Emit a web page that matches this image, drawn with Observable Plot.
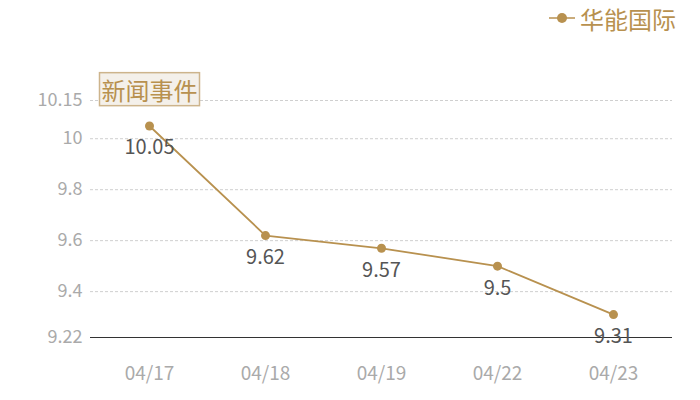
<!DOCTYPE html>
<html>
<head>
<meta charset="utf-8">
<script src="https://cdn.jsdelivr.net/npm/d3@7"></script>
<script src="https://cdn.jsdelivr.net/npm/@observablehq/plot@0.6"></script>
<style>
  html, body { margin: 0; padding: 0; background: #fff; }
  #wrap { position: relative; width: 700px; height: 400px; font-family: "Noto Sans CJK SC", sans-serif; }
  #legend { position: absolute; top: 0; right: 24px; height: 36px; display: flex; align-items: center; color: #b8914f; font-size: 24px; }
  #legend svg { margin-right: 5px; }
</style>
</head>
<body>
<div id="wrap"><div id="legend"></div></div>
<script>
const dates = ["04/17", "04/18", "04/19", "04/22", "04/23"];
const prices = [10.05, 9.62, 9.57, 9.5, 9.31];
const yTicks = [9.22, 9.4, 9.6, 9.8, 10, 10.15];
const seriesName = "华能国际";
const eventLabel = "新闻事件";
const eventDate = "04/17";

const color = "#b8914f";
const data = dates.map((d, i) => ({date: d, price: prices[i]}));
const eventData = [{date: eventDate, price: prices[dates.indexOf(eventDate)], label: eventLabel}];

const chart = Plot.plot({
  width: 700,
  height: 400,
  marginLeft: 90,
  marginRight: 28,
  marginTop: 100,
  marginBottom: 63,
  style: {fontFamily: "'Noto Sans CJK SC', sans-serif", background: "transparent"},
  x: {type: "point", domain: dates, padding: 0.5, label: null},
  y: {domain: [9.22, 10.15], label: null},
  marks: [
    Plot.gridY(yTicks, {stroke: "#cfcfcf", strokeOpacity: 1, strokeDasharray: "3,2"}),
    Plot.axisY(yTicks, {tickSize: 0, tickPadding: 8, fill: "#aaa", fontSize: 18, tickFormat: d => String(d), label: null}),
    Plot.axisX({tickSize: 0, tickPadding: 29, fill: "#aaa", fontSize: 19, label: null}),
    Plot.ruleY([9.22], {stroke: "#333", strokeWidth: 1}),
    Plot.line(data, {x: "date", y: "price", stroke: color, strokeWidth: 1.8}),
    Plot.dot(data, {x: "date", y: "price", fill: color, r: 4.5}),
    Plot.text(data, {x: "date", y: "price", text: d => String(d.price), dy: 22, fill: "#555", fontSize: 20}),
    Plot.text(eventData, {x: "date", y: "price", text: "label", dy: -34, fill: color, fontSize: 24})
  ]
});

const wrap = document.getElementById("wrap");
wrap.insertBefore(chart, wrap.firstChild);

// background box behind annotation text
d3.select(chart).selectAll("text").filter(function() { return this.textContent === eventLabel; }).each(function() {
  const bb = this.getBBox();
  const r = d3.select(this.parentNode).insert("rect", () => this)
    .attr("x", bb.x - 2).attr("y", bb.y + 1)
    .attr("width", bb.width + 4).attr("height", bb.height - 2)
    .attr("fill", "#f4f0ea").attr("stroke", "#cdb48c").attr("stroke-width", 1.5);
  const t = this.getAttribute("transform");
  if (t) r.attr("transform", t);
});

// legend
const legend = d3.select("#legend");
const ls = legend.append("svg").attr("width", 26).attr("height", 12);
ls.append("line").attr("x1", 0).attr("x2", 26).attr("y1", 6).attr("y2", 6).attr("stroke", color).attr("stroke-width", 1.5);
ls.append("circle").attr("cx", 13).attr("cy", 6).attr("r", 5).attr("fill", color);
legend.append("span").text(seriesName);
</script>
</body>
</html>
